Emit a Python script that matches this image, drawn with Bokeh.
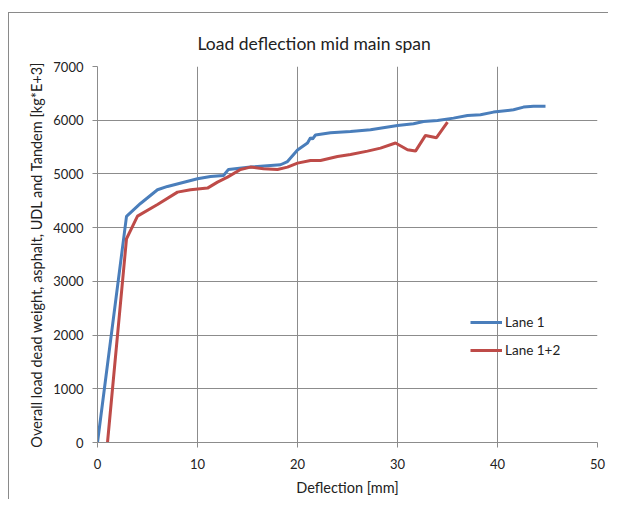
from bokeh.plotting import figure
from bokeh.models import Legend, LegendItem, Range1d, FixedTicker
from bokeh.embed import file_html
from bokeh.resources import INLINE

title_text = "Load deflection mid main span"
x_label = "Deflection [mm]"
y_label = "Overall load dead weight, asphalt, UDL and Tandem [kg*E+3]"

lane1_x = [0, 2.9, 4.3, 6.0, 7.0, 10.0, 11.3, 12.6, 13.1, 15.3, 18.3, 19.0, 20.0, 21.0, 21.3, 21.5, 21.8,
           23.3, 25.3, 27.3, 30.0, 31.6, 32.6, 34.0, 35.6, 37.0, 38.3, 39.6, 41.6, 42.6, 43.6, 44.8]
lane1_y = [0, 4210, 4450, 4705, 4767, 4910, 4953, 4970, 5084, 5127, 5171, 5230, 5445, 5574, 5674, 5650, 5725,
           5767, 5791, 5823, 5903, 5934, 5977, 5996, 6039, 6089, 6102, 6151, 6194, 6244, 6262, 6262]

lane2_x = [1.0, 2.9, 4.0, 6.0, 8.0, 9.3, 11.0, 12.0, 13.0, 14.3, 15.3, 16.6, 18.0, 19.0, 20.0, 21.3, 22.3,
           24.0, 25.3, 27.0, 28.3, 29.8, 31.0, 31.8, 32.8, 33.9, 35.0]
lane2_y = [0, 3793, 4214, 4432, 4661, 4705, 4736, 4848, 4941, 5084, 5127, 5097, 5084, 5127, 5201, 5251, 5251,
           5326, 5363, 5425, 5481, 5575, 5451, 5425, 5717, 5674, 5965]

series_names = ["Lane 1", "Lane 1+2"]
x_ticks = [0, 10, 20, 30, 40, 50]
y_ticks = [0, 1000, 2000, 3000, 4000, 5000, 6000, 7000]

FONT = "Lato"
GRID = "#8c8c8c"

p = figure(width=600, height=487, output_backend="svg", toolbar_location=None,
           x_range=Range1d(0, 50), y_range=Range1d(0, 7000),
           min_border_left=88, min_border_right=12, min_border_top=53, min_border_bottom=58)
p.styles = {"border-top": "1px solid #8a8a8a", "border-left": "1px solid #8a8a8a",
            "margin-top": "12px", "margin-left": "8px"}

p.title.text = title_text
p.title.text_font = FONT
p.title.text_font_size = "17.5px"
p.title.text_font_style = "normal"
p.title.text_color = "#222222"
p.title.align = "left"
p.title.offset = 100
p.title.standoff = 21
p.title.vertical_align = "top"

p.outline_line_color = None
p.background_fill_color = "white"
p.border_fill_color = "white"

for ax in (p.xaxis[0], p.yaxis[0]):
    ax.axis_line_color = GRID
    ax.major_tick_line_color = GRID
    ax.major_tick_out = 5
    ax.major_tick_in = 0
    ax.minor_tick_line_color = None
    ax.major_label_text_font = FONT
    ax.major_label_text_font_size = "13px"
    ax.major_label_text_color = "#222222"
    ax.axis_label_text_font = FONT
    ax.axis_label_text_font_size = "14.5px"
    ax.axis_label_text_font_style = "normal"
    ax.axis_label_text_color = "#222222"

p.xaxis[0].ticker = FixedTicker(ticks=x_ticks)
p.yaxis[0].ticker = FixedTicker(ticks=y_ticks)
p.xaxis[0].axis_label = x_label
p.yaxis[0].axis_label = y_label
p.xaxis[0].major_label_standoff = 11
p.yaxis[0].major_label_standoff = 9
p.xaxis[0].axis_label_standoff = 7
p.yaxis[0].axis_label_standoff = 5

for g in (p.xgrid[0], p.ygrid[0]):
    g.grid_line_color = GRID
    g.grid_line_width = 1
    g.grid_line_alpha = 1

r1 = p.line(lane1_x, lane1_y, line_color="#4a7ebb", line_width=3)
r2 = p.line(lane2_x, lane2_y, line_color="#be4b48", line_width=3)

legend = Legend(items=[LegendItem(label=series_names[0], renderers=[r1]),
                       LegendItem(label=series_names[1], renderers=[r2])],
                location=(373, 82), padding=0, margin=0, spacing=8,
                glyph_width=32, glyph_height=20, label_height=20, label_standoff=3,
                label_text_font=FONT, label_text_font_size="13.5px", label_text_color="#222222",
                border_line_alpha=0, background_fill_alpha=0)
p.add_layout(legend, "center")

open("out.html", "w").write(file_html(p, INLINE))
